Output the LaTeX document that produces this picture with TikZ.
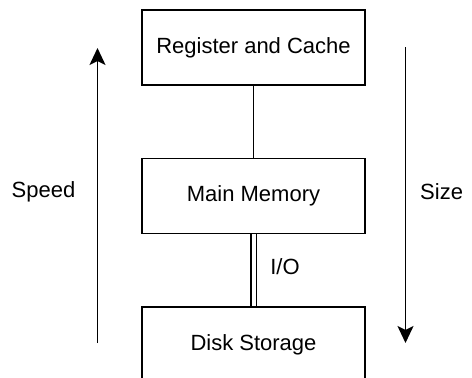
\documentclass[tikz,border=0pt]{standalone}
\usepackage{fontspec}
\setmainfont{Liberation Sans}
\usetikzlibrary{arrows.meta}
\begin{document}
\begin{tikzpicture}[x=1pt,y=-1pt,
  every node/.style={font=\fontsize{22}{26}\selectfont},
  memblock/.style={draw, line width=1.9pt, minimum width=223pt, minimum height=75pt, inner sep=0pt, fill=white},
  link/.style={line width=1.9pt},
  scalearrow/.style={line width=1.9pt, -{Stealth[length=17pt,width=16pt,inset=4pt]}},
  plainlabel/.style={inner sep=0pt}]
\useasboundingbox (0,0) rectangle (472,378);
\clip (0,0) rectangle (472,378);
\fill[white] (0,0) rectangle (472,378);
\node[memblock] (reg) at (253.5,47.5) {Register and Cache};
\node[memblock] (main) at (253.5,196) {Main Memory};
\node[memblock] (disk) at (253.5,344.5) {Disk Storage};
\draw[link] (reg) -- (main);
\draw[line width=1.9pt, double, double distance=4pt] (main) -- (disk);
\node[plainlabel] (io) at (285,267) {I/O};
\coordinate (sb) at (97.5,343);
\coordinate (st) at (97.5,48);
\draw[scalearrow] (sb) -- (st);
\node[plainlabel] (speed) at (43.5,192) {Speed};
\coordinate (zt) at (405.5,47);
\coordinate (zb) at (405.5,343);
\draw[scalearrow] (zt) -- (zb);
\node[plainlabel, anchor=west] (size) at (420,192) {Size};
\end{tikzpicture}
\end{document}
